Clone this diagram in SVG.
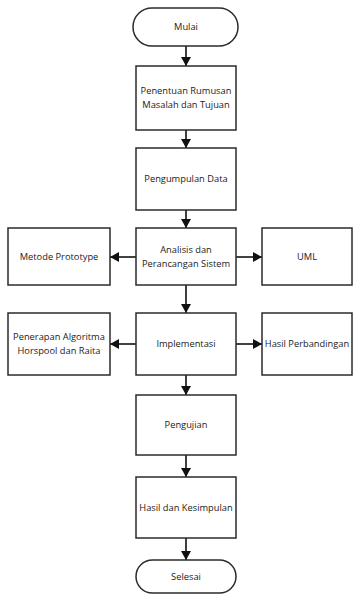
<svg xmlns="http://www.w3.org/2000/svg" width="360" height="595" viewBox="0 0 360 595">
<style>
.n{fill:#fff;stroke:#2b2b2b;stroke-width:1.5}
.t{font-family:"Open Sans","Noto Sans",sans-serif;font-size:9.3px;fill:#222;text-anchor:middle}
.c{stroke:#111;stroke-width:1.6;fill:none;marker-end:url(#ah)}
</style>
<defs>
<marker id="ah" markerWidth="9" markerHeight="10" refX="9" refY="5" orient="auto" markerUnits="userSpaceOnUse">
<path d="M0,0 L9,5 L0,10 Z" fill="#111"/>
</marker>
</defs>
<rect width="360" height="595" fill="#fff"/>
<g id="connectors">
<line class="c" x1="186" y1="46" x2="186" y2="66"/>
<line class="c" x1="186" y1="130" x2="186" y2="148"/>
<line class="c" x1="186" y1="210" x2="186" y2="228"/>
<line class="c" x1="186" y1="285" x2="186" y2="313"/>
<line class="c" x1="186" y1="375" x2="186" y2="395"/>
<line class="c" x1="186" y1="455" x2="186" y2="477"/>
<line class="c" x1="186" y1="538" x2="186" y2="560"/>
<line class="c" x1="136" y1="257" x2="110" y2="257"/>
<line class="c" x1="236" y1="257" x2="262" y2="257"/>
<line class="c" x1="136" y1="344" x2="110" y2="344"/>
<line class="c" x1="236" y1="344" x2="262" y2="344"/>
</g>
<g id="mulai"><rect class="n" x="133" y="8" width="105" height="38" rx="19"/><text class="t" x="186" y="30">Mulai</text></g>
<g id="rumusan"><rect class="n" x="136" y="66" width="100" height="64"/><text class="t" x="186" y="94">Penentuan Rumusan</text><text class="t" x="186" y="108">Masalah dan Tujuan</text></g>
<g id="pengumpulan"><rect class="n" x="136" y="148" width="100" height="62"/><text class="t" x="186" y="182">Pengumpulan Data</text></g>
<g id="analisis"><rect class="n" x="136" y="228" width="100" height="57"/><text class="t" x="186" y="253">Analisis dan</text><text class="t" x="186" y="267">Perancangan Sistem</text></g>
<g id="prototype"><rect class="n" x="8" y="228" width="102" height="57"/><text class="t" x="59" y="260">Metode Prototype</text></g>
<g id="uml"><rect class="n" x="262" y="228" width="90" height="57"/><text class="t" x="307" y="260">UML</text></g>
<g id="implementasi"><rect class="n" x="136" y="313" width="100" height="62"/><text class="t" x="186" y="347">Implementasi</text></g>
<g id="penerapan"><rect class="n" x="8" y="313" width="102" height="62"/><text class="t" x="59" y="340">Penerapan Algoritma</text><text class="t" x="59" y="354">Horspool dan Raita</text></g>
<g id="perbandingan"><rect class="n" x="262" y="313" width="90" height="62"/><text class="t" x="307" y="347">Hasil Perbandingan</text></g>
<g id="pengujian"><rect class="n" x="136" y="395" width="100" height="60"/><text class="t" x="186" y="428">Pengujian</text></g>
<g id="kesimpulan"><rect class="n" x="136" y="477" width="100" height="61"/><text class="t" x="186" y="511">Hasil dan Kesimpulan</text></g>
<g id="selesai"><rect class="n" x="136" y="560" width="100" height="33" rx="16.5"/><text class="t" x="186" y="580">Selesai</text></g>
</svg>
